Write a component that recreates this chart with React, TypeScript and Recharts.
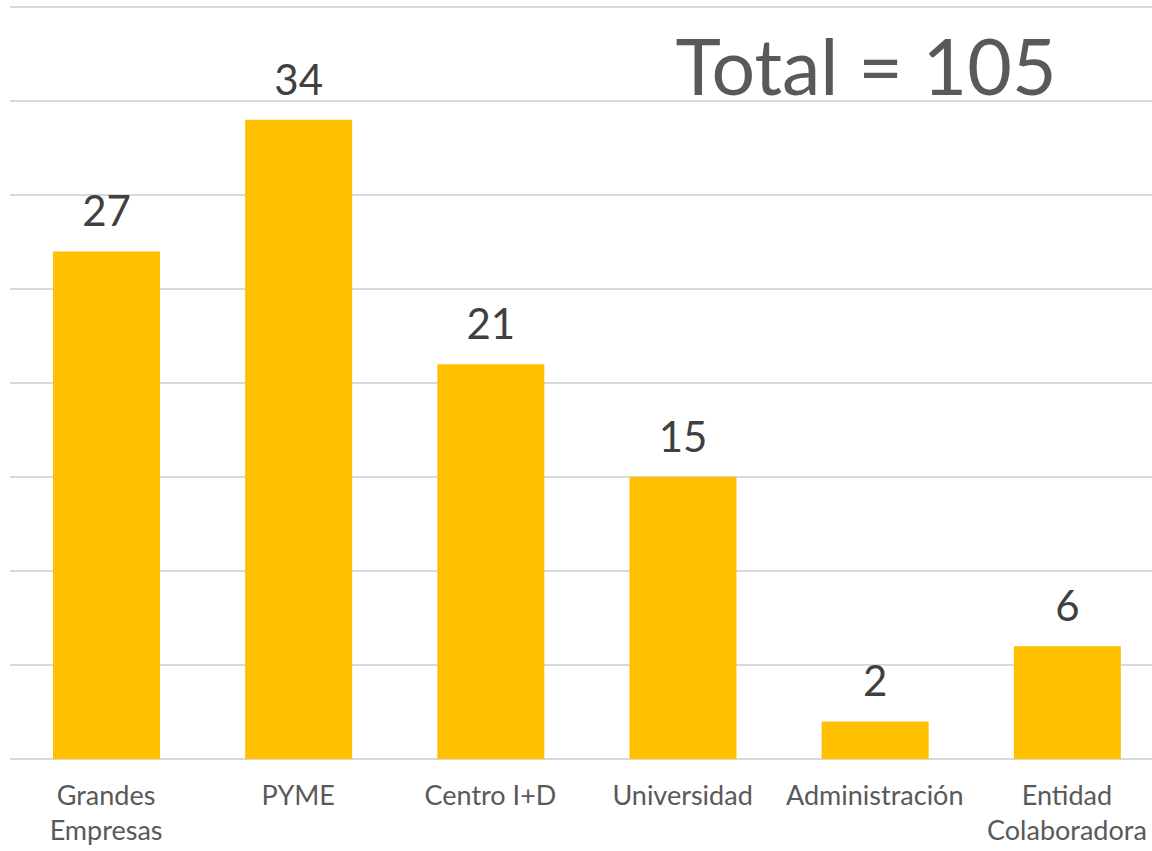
import { BarChart, Bar, XAxis, YAxis, CartesianGrid, LabelList } from 'recharts';

// categorías y valores
const categories = ['Grandes\nEmpresas', 'PYME', 'Centro I+D', 'Universidad', 'Administración', 'Entidad\nColaboradora'];
const counts = [27, 34, 21, 15, 2, 6];
const yTicks = [0, 5, 10, 15, 20, 25, 30, 35, 40];
const totalLabel = 'Total = 105';

const data = categories.map((c, i) => ({ name: c, value: counts[i] }));

const FONT = 'Lato, "Open Sans", sans-serif';

const CategoryTick = ({ x, y, payload }: any) => {
  const lines = String(payload.value).split('\n');
  return (
    <text x={x} y={y} textAnchor="middle" fill="#595959" fontSize={27} fontFamily={FONT}>
      {lines.map((l, i) => (
        <tspan key={i} x={x} dy={i === 0 ? 38 : 35}>{l}</tspan>
      ))}
    </text>
  );
};

export default function App() {
  return (
    <div style={{ position: 'absolute', left: 0, top: 0, width: 1152, height: 851, overflow: 'hidden', background: '#fff' }}>
      <BarChart
        width={1163}
        height={851}
        data={data}
        margin={{ top: 7, right: 0, left: 10, bottom: 0 }}
      >
        <CartesianGrid vertical={false} stroke="#d9d9d9" strokeWidth={2} />
        <XAxis dataKey="name" interval={0} height={92} axisLine={false} tickLine={false} tick={<CategoryTick />} />
        <YAxis hide domain={[0, 40]} ticks={yTicks} width={0} />
        <Bar dataKey="value" fill="#FFC000" barSize={107} isAnimationActive={false}>
          <LabelList dataKey="value" position="top" offset={25} fill="#404040" fontSize={42} fontFamily={FONT} />
        </Bar>
      </BarChart>
      <div
        style={{
          position: 'absolute',
          left: 866,
          top: 89,
          transform: 'translate(-50%, -100%)',
          fontFamily: FONT,
          fontSize: 77,
          lineHeight: '77px',
          color: '#595959',
          whiteSpace: 'nowrap',
        }}
      >
        <span style={{ display: 'inline-block', transform: 'translateY(15px)' }}>{totalLabel}</span>
      </div>
    </div>
  );
}
